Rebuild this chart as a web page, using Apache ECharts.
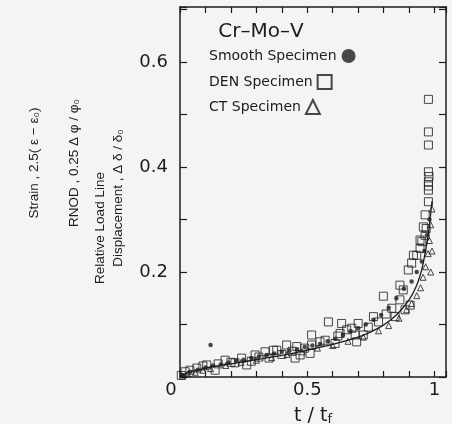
<!DOCTYPE html>
<html>
<head>
<meta charset="utf-8">
<script src="https://cdn.jsdelivr.net/npm/echarts@6/dist/echarts.min.js"></script>
<style>
  html, body { margin: 0; padding: 0; background: #f4f4f2; }
  #chart { width: 452px; height: 424px; }
</style>
</head>
<body>
<div id="chart"></div>
<script>
// tick labels
var xTickLabels = ['0', '0.5', '1'];
var yTickLabels = ['0.2', '0.4', '0.6'];
var legendNames = ['Smooth Specimen', 'DEN Specimen', 'CT Specimen'];

// Smooth specimen (filled dots), [t/tf, value]
var smoothPts = [
    [0.01, 0.004], [0.04, 0.010], [0.07, 0.014], [0.10, 0.018], [0.13, 0.022], [0.16, 0.024],
    [0.19, 0.027], [0.22, 0.031], [0.25, 0.033], [0.28, 0.036], [0.31, 0.039], [0.34, 0.042],
    [0.37, 0.045], [0.40, 0.048], [0.43, 0.050], [0.46, 0.053], [0.49, 0.057], [0.52, 0.060],
    [0.55, 0.063], [0.58, 0.068], [0.61, 0.073], [0.64, 0.080], [0.67, 0.087], [0.70, 0.093],
    [0.73, 0.100], [0.76, 0.109], [0.79, 0.118], [0.82, 0.132], [0.85, 0.150], [0.88, 0.168],
    [0.91, 0.182], [0.93, 0.200], [0.95, 0.220], [0.96, 0.240], [0.97, 0.270], [0.98, 0.300],
    [0.12, 0.061]
];

// DEN specimen (open squares)
var denPts = [
    [0.005, 0.003], [0.02, 0.010], [0.039, 0.013], [0.066, 0.017], [0.09, 0.021], [0.105, 0.023],
    [0.138, 0.013], [0.15, 0.025], [0.177, 0.032], [0.20, 0.028], [0.216, 0.027], [0.242, 0.036],
    [0.262, 0.023], [0.28, 0.030], [0.295, 0.042], [0.31, 0.038], [0.334, 0.048], [0.35, 0.036],
    [0.367, 0.051], [0.38, 0.051], [0.40, 0.043], [0.419, 0.061], [0.44, 0.049], [0.452, 0.036],
    [0.459, 0.058], [0.472, 0.042], [0.49, 0.055], [0.511, 0.045], [0.517, 0.061], [0.517, 0.080],
    [0.55, 0.067], [0.57, 0.070], [0.583, 0.105], [0.609, 0.064], [0.62, 0.078], [0.629, 0.083],
    [0.635, 0.102], [0.655, 0.090], [0.675, 0.093], [0.688, 0.080], [0.694, 0.067], [0.70, 0.102],
    [0.72, 0.080], [0.74, 0.095], [0.76, 0.115], [0.78, 0.105], [0.799, 0.154], [0.81, 0.120],
    [0.832, 0.131], [0.845, 0.115], [0.864, 0.147], [0.864, 0.175], [0.877, 0.166], [0.884, 0.128],
    [0.897, 0.204], [0.904, 0.137], [0.91, 0.217], [0.917, 0.232], [0.93, 0.232], [0.943, 0.245],
    [0.943, 0.261], [0.95, 0.258], [0.956, 0.286], [0.963, 0.270], [0.963, 0.309], [0.967, 0.283],
    [0.976, 0.334], [0.976, 0.356], [0.976, 0.364], [0.976, 0.372], [0.978, 0.382], [0.976, 0.391],
    [0.976, 0.442], [0.976, 0.467], [0.976, 0.529]
];

// CT specimen (open triangles)
var ctPts = [
    [0.01, 0.002], [0.03, 0.006], [0.06, 0.009], [0.09, 0.013], [0.12, 0.016], [0.18, 0.022],
    [0.24, 0.028], [0.30, 0.032], [0.36, 0.037], [0.42, 0.043], [0.48, 0.048], [0.54, 0.055],
    [0.60, 0.060], [0.66, 0.068], [0.72, 0.076], [0.78, 0.088], [0.82, 0.098], [0.86, 0.112],
    [0.89, 0.128], [0.91, 0.140], [0.93, 0.155], [0.945, 0.170], [0.955, 0.190], [0.965, 0.210],
    [0.975, 0.235], [0.98, 0.260], [0.985, 0.290], [0.99, 0.320], [0.985, 0.200], [0.99, 0.240]
];

// solid fitted curve
var curvePts = [
    [0, 0], [0.02, 0.006], [0.05, 0.011], [0.10, 0.017], [0.15, 0.021], [0.20, 0.025],
    [0.30, 0.033], [0.40, 0.041], [0.50, 0.051], [0.60, 0.062], [0.70, 0.076], [0.75, 0.086],
    [0.80, 0.099], [0.85, 0.118], [0.90, 0.147], [0.93, 0.175], [0.95, 0.205], [0.97, 0.255],
    [0.98, 0.290], [0.99, 0.335]
];

var ink = '#1c1c1c';
var wideFont = '"DejaVu Sans", sans-serif';
var narrowFont = '"Liberation Sans", Arial, sans-serif';

function fmt(v) {
    return String(Math.round(v * 100) / 100);
}

var hollow = { color: 'rgba(255,255,255,0)', borderColor: ink, borderWidth: 1 };

var chart = echarts.init(document.getElementById('chart'));

function frameAxis(extra) {
    return Object.assign({
        type: 'value',
        splitLine: { show: false },
        axisLine: { show: true, onZero: false, lineStyle: { color: ink, width: 1.5 } },
        axisTick: { show: true, inside: true, length: 6, lineStyle: { color: ink, width: 1.2 } },
        axisLabel: { show: false }
    }, extra);
}

// one legend per entry so each icon sits right after its own text
var legends = legendNames.map(function (name, i) {
    return {
        data: [name],
        left: 204,
        top: 44 + i * 25,
        align: 'right',
        itemWidth: 14,
        itemHeight: 14,
        selectedMode: false,
        textStyle: { color: ink, fontFamily: wideFont, fontSize: 14 }
    };
});

function vtext(x, y, text) {
    return {
        type: 'text', x: x, y: y, rotation: Math.PI / 2,
        style: { text: text, font: '13.5px ' + narrowFont, fill: ink, align: 'center', verticalAlign: 'middle', textAlign: 'center', textVerticalAlign: 'middle' }
    };
}

var option = {
    backgroundColor: '#f4f4f2',
    animation: false,
    grid: { left: 180, right: 6, top: 7, bottom: 47, outerBoundsMode: 'none' },
    legend: legends,
    xAxis: [
        frameAxis({
            min: 0, max: 1.045, interval: 0.1,
            position: 'bottom',
            axisLabel: {
                margin: 4,
                color: ink,
                fontFamily: wideFont,
                fontSize: 18,
                formatter: function (v) {
                    var s = fmt(v);
                    if (xTickLabels.indexOf(s) < 0) return '';
                    return s === '0' ? '{z|0}' : s;
                },
                rich: { z: { padding: [0, 18, 0, 0], fontFamily: wideFont, fontSize: 18, color: ink } }
            },
            name: '{a|t / t}{b|f}',
            nameLocation: 'middle',
            nameGap: 30,
            nameTextStyle: {
                rich: {
                    a: { fontFamily: wideFont, fontSize: 19, color: ink, verticalAlign: 'bottom' },
                    b: { fontFamily: wideFont, fontSize: 13, color: ink, verticalAlign: 'bottom' }
                }
            }
        }),
        frameAxis({ min: 0, max: 1.045, interval: 0.1, position: 'top' })
    ],
    yAxis: [
        frameAxis({
            min: 0, max: 0.705, interval: 0.1,
            position: 'left',
            axisTick: { show: true, inside: true, length: 7, lineStyle: { color: ink, width: 1.2 } },
            axisLabel: {
                margin: 12,
                color: ink,
                fontFamily: wideFont,
                fontSize: 18,
                formatter: function (v) {
                    var s = fmt(v);
                    return yTickLabels.indexOf(s) < 0 ? '' : s;
                }
            }
        }),
        frameAxis({
            min: 0, max: 0.705, interval: 0.1,
            position: 'right',
            axisTick: { show: true, inside: true, length: 7, lineStyle: { color: ink, width: 1.2 } }
        })
    ],
    graphic: [
        {
            type: 'text', x: 261, y: 32,
            style: { text: 'Cr–Mo–V', font: '20px ' + wideFont, fill: ink, align: 'center', verticalAlign: 'middle', textAlign: 'center', textVerticalAlign: 'middle' }
        },
        vtext(34, 163, 'Strain , 2.5( ε − ε₀)'),
        vtext(74, 163, 'RNOD , 0.25 Δ φ / φ₀'),
        vtext(100, 228, 'Relative Load Line'),
        vtext(118, 198, 'Displacement , Δ δ / δ₀')
    ],
    series: [
        {
            name: 'fit', type: 'line', data: curvePts, showSymbol: false, smooth: 0.2,
            lineStyle: { color: ink, width: 1.3 }, z: 1, silent: true
        },
        {
            name: 'Smooth Specimen', type: 'scatter', data: smoothPts,
            symbol: 'circle', symbolSize: 4.5, itemStyle: { color: ink }, z: 3
        },
        {
            name: 'DEN Specimen', type: 'scatter', data: denPts,
            symbol: 'rect', symbolSize: 8, itemStyle: hollow, z: 2
        },
        {
            name: 'CT Specimen', type: 'scatter', data: ctPts,
            symbol: 'triangle', symbolSize: 6, itemStyle: hollow, z: 2
        }
    ]
};

chart.setOption(option);
</script>
</body>
</html>
